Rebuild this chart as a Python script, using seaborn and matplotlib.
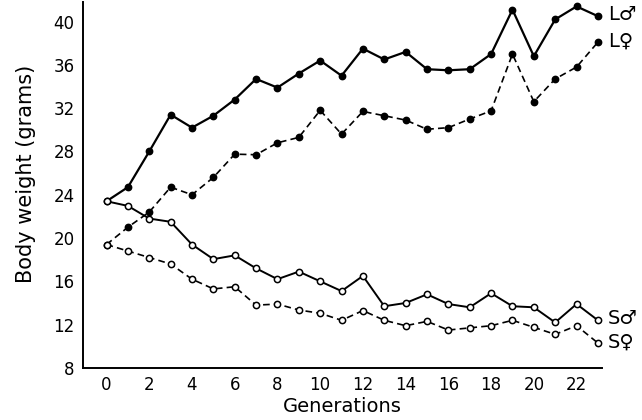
import matplotlib
matplotlib.use("Agg")
import matplotlib.pyplot as plt
import seaborn as sns
import pandas as pd

generations = list(range(24))

large_male = [23.4, 24.7, 28.0, 31.4, 30.2, 31.3, 32.8, 34.7, 33.9, 35.2, 36.4, 35.0,
              37.5, 36.5, 37.2, 35.6, 35.5, 35.6, 37.0, 41.1, 36.8, 40.2, 41.4, 40.5]
large_female = [19.4, 21.0, 22.4, 24.7, 24.0, 25.6, 27.75, 27.7, 28.8, 29.3, 31.8, 29.6,
                31.7, 31.3, 30.9, 30.05, 30.2, 31.0, 31.75, 37.0, 32.6, 34.7, 35.8, 38.1]
small_male = [23.4, 22.97, 21.8, 21.5, 19.4, 18.05, 18.4, 17.2, 16.2, 16.9, 16.0, 15.1,
              16.5, 13.7, 14.0, 14.8, 13.9, 13.6, 14.9, 13.7, 13.6, 12.2, 13.9, 12.4]
small_female = [19.4, 18.8, 18.2, 17.6, 16.2, 15.3, 15.5, 13.8, 13.9, 13.35, 13.05, 12.4,
                13.3, 12.4, 11.9, 12.3, 11.5, 11.7, 11.9, 12.4, 11.75, 11.1, 11.9, 10.3]

line_labels = ["L\u2642", "L\u2640", "S\u2642", "S\u2640"]
y_ticks = [8, 12, 16, 20, 24, 28, 32, 36, 40]
x_ticks = list(range(0, 23, 2))

sns.set_style("white")
plt.rcParams['font.family'] = ['DejaVu Sans']
plt.rcParams['text.color'] = 'black'
plt.rcParams['axes.labelcolor'] = 'black'

fig = plt.figure(figsize=(6.42, 4.2), dpi=100)
ax = fig.add_axes([0.129, 0.124, 0.809, 0.871])

series = [
    (large_male, "-", "o", "black", 1.6),
    (large_female, (0, (4, 2.5)), "o", "black", 1.2),
    (small_male, "-", "o", "white", 1.4),
    (small_female, (0, (4, 2.5)), "o", "white", 1.2),
]

for (values, ls, mk, face, lw), name in zip(series, line_labels):
    df = pd.DataFrame({"gen": generations, "weight": values})
    sns.lineplot(data=df, x="gen", y="weight", ax=ax, color="black",
                 linestyle=ls, linewidth=lw, marker=mk, markersize=4.5,
                 markerfacecolor=face, markeredgecolor="black",
                 markeredgewidth=1.1, clip_on=False)
    ax.annotate(name, (generations[-1], values[-1]), xytext=(7, 1),
                textcoords="offset points", va="center", ha="left",
                fontsize=14, color="black", annotation_clip=False)

ax.set_xlim(-1.11, 23.2)
ax.set_ylim(8, 41.8)
ax.set_xticks(x_ticks)
ax.set_yticks(y_ticks)
ax.tick_params(axis="both", direction="out", length=3, width=1, labelsize=12,
               colors="black", pad=3)
for side in ["top", "right"]:
    ax.spines[side].set_visible(False)
for side in ["left", "bottom"]:
    ax.spines[side].set_color("black")
    ax.spines[side].set_linewidth(1.4)

ax.set_xlabel("Generations", fontsize=14, labelpad=2, color="black")
ax.set_ylabel("Body weight (grams)", fontsize=15, color="black")
ax.yaxis.set_label_coords(-0.09, 0.53)

fig.savefig("out.png", dpi=100)
